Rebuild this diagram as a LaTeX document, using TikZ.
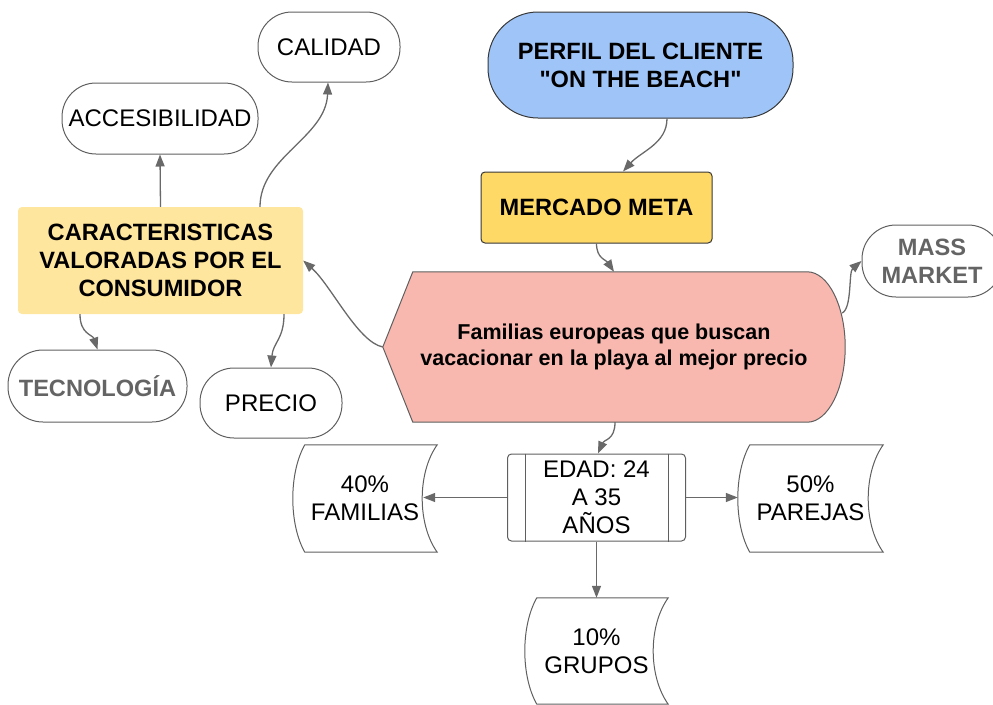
\documentclass[tikz,border=0pt]{standalone}
\usepackage{fontspec}
\setmainfont{Liberation Sans}[Ligatures=TeXOff]
\usetikzlibrary{arrows.meta,calc,backgrounds}
\definecolor{blueF}{RGB}{159,197,248}
\definecolor{goldF}{RGB}{255,217,102}
\definecolor{paleF}{RGB}{255,230,158}
\definecolor{pinkF}{RGB}{248,184,176}
\definecolor{lineC}{RGB}{95,95,95}
\definecolor{darkC}{RGB}{55,55,55}
\definecolor{arrC}{RGB}{105,105,105}
\definecolor{greyT}{RGB}{100,100,100}
\begin{document}
\begin{tikzpicture}[x=1pt,y=-1pt,
  every node/.style={font=\fontsize{24}{28}\selectfont, align=center, inner sep=0pt},
  pill/.style={rectangle, rounded corners=34pt, draw=lineC, line width=1pt},
  boldtxt/.style={font=\fontsize{23.6}{28}\selectfont\bfseries},
  sdshape/.style={draw=lineC, line width=1pt},
  conn/.style={draw=arrC, line width=1.3pt, -{Triangle[length=12pt,width=9pt]}}
]
\useasboundingbox (0,0) rectangle (993,704);
\clip (0,0) rectangle (993,704);

% nodes
\node[pill, minimum width=142pt, minimum height=70pt] (calidad) at (329,47) {CALIDAD};
\node[pill, minimum width=196pt, minimum height=71pt] (acces) at (160,118.5) {ACCESIBILIDAD};
\node[pill, rounded corners=50pt, fill=blueF, draw=darkC, boldtxt, minimum width=305pt, minimum height=106pt] (perfil) at (640.5,65) {PERFIL DEL CLIENTE\\"ON THE BEACH"};
\node[rectangle, rounded corners=4pt, fill=goldF, draw=darkC, line width=1pt, boldtxt, minimum width=231pt, minimum height=71pt] (mercado) at (596.5,207.5) {MERCADO META};
\node[pill, boldtxt, text=greyT, minimum width=140pt, minimum height=72pt] (mass) at (932,261) {MASS\\MARKET};
\node[rectangle, rounded corners=4pt, fill=paleF, boldtxt, minimum width=285pt, minimum height=107pt] (caract) at (160.5,260.5) {CARACTERISTICAS\\VALORADAS POR EL\\CONSUMIDOR};
\node[minimum width=462pt, minimum height=150pt, font=\fontsize{21.5}{26}\selectfont\bfseries] (pink) at (614,347) {Familias europeas que buscan\\vacacionar en la playa al mejor precio};
\node[pill, rounded corners=35pt, boldtxt, text=greyT, minimum width=179pt, minimum height=72pt] (tecno) at (97.5,386) {TECNOLOGÍA};
\node[pill, minimum width=142pt, minimum height=70pt] (precio) at (271,403) {PRECIO};
\node[rectangle, rounded corners=4pt, draw=lineC, line width=1pt, minimum width=178pt, minimum height=87pt] (edad) at (596.5,497.5) {EDAD: 24\\A 35\\AÑOS};
\node[minimum width=144pt, minimum height=107pt] (fam) at (365,498.5) {40\%\\FAMILIAS};
\node[minimum width=145pt, minimum height=107pt] (par) at (810.5,498.5) {50\%\\PAREJAS};
\node[minimum width=143pt, minimum height=106pt] (grp) at (596.5,651) {10\%\\GRUPOS};

\begin{scope}[on background layer]
  \draw[fill=pinkF, draw=lineC, line width=1pt]
    ($(pink.north west)+(30,0)$) -- ($(pink.north east)+(-38,0)$)
    .. controls +(21,0) and +(0,-41) .. (pink.east)
    .. controls +(0,41) and +(21,0) .. ($(pink.south east)+(-38,0)$)
    -- ($(pink.south west)+(30,0)$) -- (pink.west) -- cycle;
  \foreach \n in {fam,par,grp}{
    \draw[sdshape]
      ($(\n.north west)+(12,0)$) -- (\n.north east)
      .. controls +(-20,28) and +(-20,-28) .. (\n.south east)
      -- ($(\n.south west)+(12,0)$)
      .. controls +(-16,-28) and +(-16,28) .. ($(\n.north west)+(12,0)$) -- cycle;
  }
\end{scope}

% inner lines of EDAD
\draw[lineC, line width=1pt] ($(edad.north west)+(18,0)$) -- ($(edad.south west)+(18,0)$);
\draw[lineC, line width=1pt] ($(edad.north east)+(-18,0)$) -- ($(edad.south east)+(-18,0)$);

% connectors
\draw[conn] ($(perfil.south)+(26.5,0)$) .. controls +(0,25) and +(18,-20) .. ($(mercado.north)+(26.5,0)$);
\draw[conn] (mercado.south) .. controls +(0,15) and +(-8,-12) .. (pink.north);
\draw[conn] (pink.west) .. controls +(-25,-5) and +(28,25) .. (caract.east);
\draw[conn] (caract.north) -- (acces.south);
\draw[conn] ($(caract.north)+(99.5,0)$) .. controls +(0,-50) and +(-2,55) .. ($(calidad.south)+(-1,0)$);
\draw[conn] ($(caract.south)+(-80.5,0)$) .. controls +(0,20) and +(-5,-15) .. (tecno.north);
\draw[conn] ($(caract.south)+(123.5,0)$) .. controls +(0,25) and +(2,-25) .. (precio.north);
\draw[conn] ($(pink.east)+(-3,-34)$) .. controls +(10,-5) and +(-13,11) .. (mass.west);
\draw[conn] ($(pink.south)+(1,0)$) .. controls +(0,18) and +(6,-14) .. ($(edad.north)+(1.5,0)$);
\draw[conn] (edad.west) -- ($(edad.west -| fam.east)+(-14,0)$);
\draw[conn] (edad.east) -- (edad.east -| par.west);
\draw[conn] (edad.south) -- (edad.south |- grp.north);
\end{tikzpicture}
\end{document}
